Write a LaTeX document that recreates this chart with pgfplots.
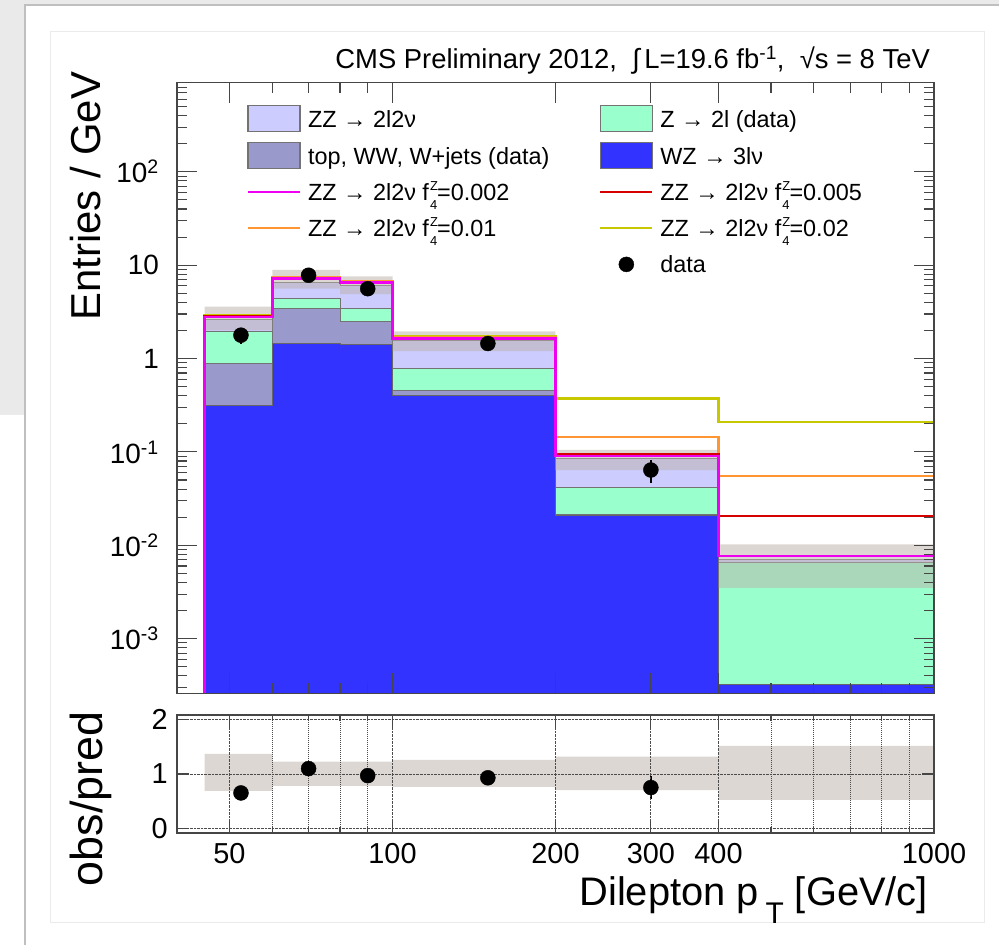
\documentclass[border=0pt]{standalone}
\usepackage{fontspec}
\setmainfont{Liberation Sans}
\usepackage{pgfplots}
\usepackage{pgfplotstable}
\pgfplotsset{compat=1.18}

\definecolor{zzcol}{RGB}{204,204,255}
\definecolor{zcol}{RGB}{153,255,204}
\definecolor{topcol}{RGB}{153,153,204}
\definecolor{wzcol}{RGB}{51,51,255}
\definecolor{bandcol}{RGB}{187,177,169}
\definecolor{magcol}{RGB}{240,0,240}
\definecolor{redcol}{RGB}{215,0,0}
\definecolor{orcol}{RGB}{255,150,50}
\definecolor{yelcol}{RGB}{200,200,0}
\definecolor{bggray}{RGB}{234,234,234}
\definecolor{axcol}{RGB}{70,70,70}

% stacked histograms, cumulative (per GeV); first/last rows close the outline at the bottom
\pgfplotstableread{
x wz top z zz
45 0.0002 0.0002 0.0002 0.0002
45 0.316 0.88 1.93 2.6
60 1.45 3.43 4.4 6.6
80 1.42 2.47 3.43 6.1
100 0.405 0.458 0.78 1.57
200 0.021 0.0215 0.042 0.085
400 0.00032 0.00032 0.0066 0.0070
1000 0.00032 0.00032 0.0066 0.0070
1000 0.0002 0.0002 0.0002 0.0002
}\stack

% uncertainty band on the total: upper edge forward, lower edge backward
\pgfplotstableread{
x y
45 3.6
60 8.9
80 7.6
100 1.95
200 0.105
400 0.0102
1000 0.0102
1000 0.0035
400 0.064
200 1.2
100 4.9
80 5.6
60 2.0
45 2.0
}\band

% anomalous coupling curves
\pgfplotstableread{
x mag red ora yel
45 0.0002 0.0002 0.0002 0.0002
45 2.8 2.82 2.86 2.9
60 7.2 7.3 7.4 7.5
80 6.5 6.6 6.7 6.8
100 1.64 1.66 1.70 1.75
200 0.090 0.095 0.144 0.372
400 0.0077 0.0205 0.055 0.21
1000 0.0077 0.0205 0.055 0.21
}\sig

\pgfplotstableread{
x y e r re
52.5 1.78 0.34 0.65 0.13
70 7.8 0.62 1.10 0.09
90 5.6 0.53 0.97 0.09
150 1.45 0.12 0.93 0.08
300 0.064 0.018 0.75 0.21
}\data

% ratio band: upper edge forward, lower edge backward
\pgfplotstableread{
x y
45 1.37
60 1.23
80 1.23
100 1.26
200 1.32
400 1.52
1000 1.52
1000 0.52
400 0.70
200 0.76
100 0.78
80 0.78
60 0.69
45 0.69
}\rband

\pgfplotsset{
  boxleg/.style={legend image code/.code={
    \path[draw=none,fill=none] (0bp,-13bp) rectangle (52bp,13bp);
    \draw[##1,line width=1.2bp] (0bp,-13bp) rectangle (52bp,13bp);}},
  lineleg/.style={legend image code/.code={
    \path[draw=none,fill=none] (0bp,-13bp) rectangle (52bp,13bp);
    \draw[##1] (0bp,0bp) -- (52bp,0bp);}},
  dotleg/.style={legend image code/.code={
    \path[draw=none,fill=none] (0bp,-13bp) rectangle (52bp,13bp);
    \fill[black] (26bp,0bp) circle (7.5bp);}},
}
\newcommand{\fz}{f\kern1bp\rlap{\raisebox{10.5bp}{\fontsize{13}{13}\selectfont Z}}\raisebox{-8.5bp}{\fontsize{13}{13}\selectfont 4}}

\begin{document}
\begin{tikzpicture}
\path[use as bounding box] (0bp,0bp) rectangle (999bp,945bp);
\fill[bggray] (0bp,0bp) rectangle (999bp,945bp);
\fill[white] (25bp,0bp) rectangle (999bp,940bp);
\fill[white] (0bp,0bp) rectangle (25bp,530bp);
\draw[black!25, line width=2.5bp] (25bp,0bp) -- (25bp,940bp) -- (999bp,940bp);
\draw[black!8, line width=1bp] (50bp,22bp) rectangle (984bp,913bp);

\begin{axis}[
  at={(177bp,251.7bp)}, anchor=south west,
  width=757bp, height=610.6bp, scale only axis,
  xmode=log, ymode=log,
  xmin=40, xmax=1000, ymin=2.6e-4, ymax=900,
  xtick={50,100,200,300,400,1000}, xticklabels={},
  minor xtick={60,70,80,90,500,600,700,800,900},
  ytick={0.001,0.01,0.1,1,10,100},
  yticklabels={10\textsuperscript{-3},10\textsuperscript{-2},10\textsuperscript{-1},1,10,10\textsuperscript{2}},
  minor ytick={3e-4,4e-4,5e-4,6e-4,7e-4,8e-4,9e-4,
    0.002,0.003,0.004,0.005,0.006,0.007,0.008,0.009,
    0.02,0.03,0.04,0.05,0.06,0.07,0.08,0.09,
    0.2,0.3,0.4,0.5,0.6,0.7,0.8,0.9,
    2,3,4,5,6,7,8,9,20,30,40,50,60,70,80,90,200,300,400,500,600,700,800,900},
  tick align=inside, major tick length=20bp, minor tick length=10bp,
  axis line style={axcol, line width=1.6bp},
  tick style={axcol, line width=1.1bp},
  axis on top,
  yticklabel style={font=\fontsize{28}{28}\selectfont, inner sep=0pt, xshift=-18bp},
  ylabel={Entries / GeV},
  ylabel style={font=\fontsize{42}{42}\selectfont, inner sep=0pt,
    at={(axis description cs:-0.1,1.018)}, anchor=south east},
  legend columns=2,
  legend cell align=left,
  legend style={at={(0.0925,0.9635)}, anchor=north west, draw=none, fill=none,
    inner sep=0pt, outer sep=0pt,
    font=\fontsize{23.5}{26}\selectfont,
    nodes={inner sep=0pt, text height=17bp, text depth=0bp},
    row sep=10bp,
    /tikz/every odd column/.append style={column sep=7bp},
    /tikz/every even column/.append style={column sep=50bp}},
]
% legend entries (order as in the reference)
\addlegendimage{boxleg, fill=zzcol, draw=black!55}
\addlegendentry{ZZ → 2l2ν}
\addlegendimage{boxleg, fill=zcol, draw=black!55}
\addlegendentry{Z → 2l (data)}
\addlegendimage{boxleg, fill=topcol, draw=black!55}
\addlegendentry{top, WW, W+jets (data)}
\addlegendimage{boxleg, fill=wzcol, draw=black!55}
\addlegendentry{WZ → 3lν}
\addlegendimage{lineleg, magcol, line width=2bp}
\addlegendentry{ZZ → 2l2ν \fz=0.002}
\addlegendimage{lineleg, redcol, line width=2bp}
\addlegendentry{ZZ → 2l2ν \fz=0.005}
\addlegendimage{lineleg, orcol, line width=2bp}
\addlegendentry{ZZ → 2l2ν \fz=0.01}
\addlegendimage{lineleg, yelcol, line width=2bp}
\addlegendentry{ZZ → 2l2ν \fz=0.02}
\addlegendimage{empty legend}
\addlegendentry{}
\addlegendimage{dotleg}
\addlegendentry{data}

% stacked histograms (cumulative)
\addplot[const plot mark left, fill=zzcol, draw=black!55, line width=1bp, forget plot]
  table[x=x,y=zz]{\stack} -- cycle;
\addplot[const plot mark left, fill=zcol, draw=black!55, line width=1bp, forget plot]
  table[x=x,y=z]{\stack} -- cycle;
\addplot[const plot mark left, fill=topcol, draw=black!55, line width=1bp, forget plot]
  table[x=x,y=top]{\stack} -- cycle;
\addplot[const plot mark left, fill=wzcol, draw=black!60, line width=1bp, forget plot]
  table[x=x,y=wz]{\stack} -- cycle;

% uncertainty band
\addplot[const plot mark left, fill=bandcol, fill opacity=0.5, draw=none, forget plot]
  table[x=x,y=y]{\band} -- cycle;

% aTGC curves
\addplot[const plot mark left, yelcol, line width=2.5bp, forget plot] table[x=x,y=yel]{\sig};
\addplot[const plot mark left, orcol, line width=2.5bp, forget plot] table[x=x,y=ora]{\sig};
\addplot[const plot mark left, redcol, line width=2.5bp, forget plot] table[x=x,y=red]{\sig};
\addplot[const plot mark left, magcol, line width=2.5bp, forget plot] table[x=x,y=mag]{\sig};

% data
\addplot[only marks, mark=*, mark size=7.5bp, black, forget plot,
  error bars/.cd, y dir=both, y explicit, error mark=none,
  error bar style={line width=1.6bp, black}]
  table[x=x,y=y,y error=e]{\data};
\end{axis}

\begin{axis}[
  at={(177bp,112bp)}, anchor=south west,
  width=757bp, height=118bp, scale only axis,
  xmode=log,
  xmin=40, xmax=1000, ymin=-0.09, ymax=2.09,
  xtick={50,100,200,300,400,1000},
  xticklabels={50,100,200,300,400,1000},
  minor xtick={60,70,80,90,500,600,700,800,900},
  ytick={0,1,2},
  /pgf/number format/assume math mode=true,
  tick align=inside, major tick length=12bp, minor tick length=6bp,
  axis line style={axcol, line width=1.6bp},
  tick style={axcol, line width=1.1bp},
  xmajorgrids, xminorgrids, ymajorgrids,
  grid style={densely dotted, black!70, line width=1bp},
  minor grid style={densely dotted, black!70, line width=1bp},
  axis on top,
  xticklabel style={font=\fontsize{29}{29}\selectfont, inner sep=0pt, yshift=-10bp},
  yticklabel style={font=\fontsize{29}{29}\selectfont, inner sep=0pt, xshift=-9bp},
  ylabel={obs/pred},
  ylabel style={font=\fontsize{45}{45}\selectfont, inner sep=0pt,
    at={(axis description cs:-0.086,1.03)}, anchor=south east},
  xlabel={Dilepton p\,\raisebox{-0.45em}{\fontsize{30}{30}\selectfont T} [GeV/c]},
  xlabel style={font=\fontsize{40}{40}\selectfont, inner sep=0pt,
    at={(axis description cs:1,0)}, anchor=north east, xshift=-6bp, yshift=-43bp},
]
\addplot[const plot mark left, fill=bandcol, fill opacity=0.5, draw=none, forget plot]
  table[x=x,y=y]{\rband} -- cycle;
\addplot[only marks, mark=*, mark size=7.5bp, black, forget plot,
  error bars/.cd, y dir=both, y explicit, error mark=none,
  error bar style={line width=1.6bp, black}]
  table[x=x,y=r,y error=re]{\data};
\end{axis}

\node[anchor=base east, inner sep=0pt, font=\fontsize{27.5}{30}\selectfont]
  at (930bp,876bp) {CMS Preliminary 2012, \ ∫\,L=19.6 fb\textsuperscript{-1}, \ √s = 8 TeV};
\end{tikzpicture}
\end{document}
